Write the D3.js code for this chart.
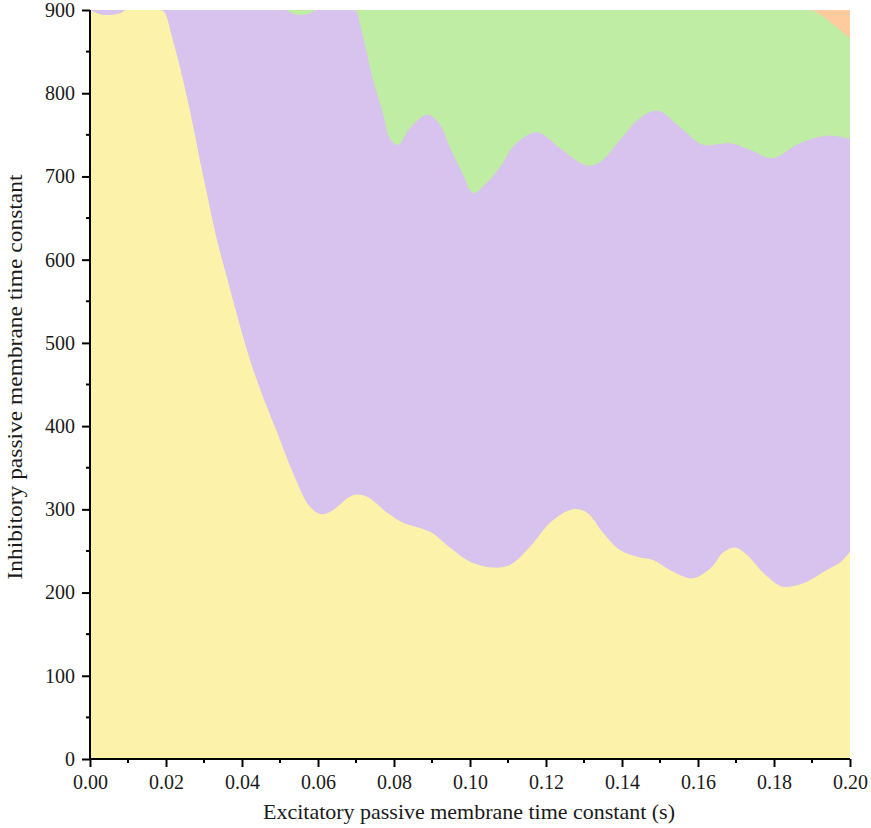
<!DOCTYPE html>
<html>
  <head>
    <meta charset="utf-8">
    <title>Membrane time constant regions</title>
    <script src="https://cdnjs.cloudflare.com/ajax/libs/d3/7.8.5/d3.min.js"></script>
    <style>
      body { margin: 0; background: #fff; }
      svg text { font-family: "Liberation Serif", "Times New Roman", serif; fill: #1a1a1a; }
    </style>
  </head>
  <body>
    <script>

      var outerWidth = 871;
      var outerHeight = 828;
      var margin = { left: 90, top: 10, right: 21, bottom: 69 };

      // tick values
      var xTicks = [0, 0.02, 0.04, 0.06, 0.08, 0.10, 0.12, 0.14, 0.16, 0.18, 0.20];
      var xMinorTicks = [0.01, 0.03, 0.05, 0.07, 0.09, 0.11, 0.13, 0.15, 0.17, 0.19];
      var yTicks = [0, 100, 200, 300, 400, 500, 600, 700, 800, 900];
      var yMinorTicks = [50, 150, 250, 350, 450, 550, 650, 750, 850];

      var regionColors = ["#fdcb9e", "#c0eda4", "#d8c2ee", "#fdf2aa"];

      // upper edge of each region [tauE, tauI]
      var orangeTop = [[0, 900], [0.20, 900]];

      var greenTop = [[0, 900], [0.19, 900], [0.1908, 898], [0.1927, 893],
        [0.1947, 886], [0.1974, 876], [0.20, 866]];

      var purpleTop = [[0, 900], [0.0513, 900], [0.0532, 896], [0.0553, 894],
        [0.0579, 896], [0.0595, 900], [0.0697, 900], [0.0711, 882], [0.0724, 858],
        [0.0745, 816], [0.0771, 776], [0.0789, 746], [0.0811, 738], [0.0842, 758],
        [0.0889, 774], [0.0921, 762], [0.0947, 735], [0.0982, 702], [0.1008, 680],
        [0.1039, 690], [0.1079, 711], [0.1118, 738], [0.1176, 753], [0.1237, 734],
        [0.1308, 713], [0.1342, 717], [0.1395, 744], [0.1447, 770], [0.1495, 779],
        [0.1553, 759], [0.1613, 738], [0.1684, 740], [0.1737, 732], [0.1795, 722],
        [0.1868, 740], [0.1939, 749], [0.20, 745]];

      var yellowTop = [[0, 900], [0.0026, 895], [0.0053, 894], [0.0079, 896],
        [0.0095, 900], [0.0184, 900], [0.0195, 898], [0.0218, 864], [0.0245, 816],
        [0.0268, 768], [0.0289, 720], [0.0311, 672], [0.0334, 624], [0.0363, 574],
        [0.0390, 528], [0.0418, 484], [0.0447, 445], [0.0492, 393], [0.0534, 344],
        [0.0579, 303], [0.0611, 294], [0.0639, 299], [0.0692, 317], [0.0729, 315],
        [0.0782, 296], [0.0824, 284], [0.0895, 273], [0.0947, 254], [0.1, 237],
        [0.106, 230], [0.1105, 233], [0.1158, 255], [0.1211, 284], [0.1271, 300],
        [0.1308, 296], [0.135, 272], [0.1395, 251], [0.144, 243], [0.1482, 239],
        [0.1526, 227], [0.1579, 217], [0.16, 219], [0.1637, 231], [0.1666, 248],
        [0.1697, 254], [0.1729, 245], [0.1771, 224], [0.1816, 208], [0.1842, 207],
        [0.1887, 213], [0.1939, 227], [0.1974, 236], [0.20, 249]];

      var innerWidth  = outerWidth  - margin.left - margin.right;
      var innerHeight = outerHeight - margin.top  - margin.bottom;

      var svg = d3.select("body").append("svg")
        .attr("width",  outerWidth)
        .attr("height", outerHeight);
      var g = svg.append("g")
        .attr("transform", "translate(" + margin.left + "," + margin.top + ")");

      var xScale = d3.scaleLinear().domain([0, 0.2]).range([0, innerWidth]);
      var yScale = d3.scaleLinear().domain([0, 900]).range([innerHeight, 0]);

      svg.append("defs").append("clipPath").attr("id", "plot-clip")
        .append("rect").attr("width", innerWidth).attr("height", innerHeight);

      var area = d3.area()
        .curve(d3.curveCatmullRom.alpha(0.5))
        .x(function (d){ return xScale(d[0]); })
        .y0(yScale(0))
        .y1(function (d){ return yScale(d[1]); });

      // paint from the top region down, each filled to the bottom
      var regions = [orangeTop, greenTop, purpleTop, yellowTop];
      g.append("g").attr("clip-path", "url(#plot-clip)")
        .selectAll("path").data(regions)
        .enter().append("path")
          .attr("d", area)
          .attr("fill", function (d, i){ return regionColors[i]; });

      // axes
      var xAxisG = g.append("g").attr("transform", "translate(0," + innerHeight + ")");
      xAxisG.call(d3.axisBottom(xScale).tickValues(xTicks).tickFormat(d3.format(".2f"))
        .tickSize(8).tickPadding(8));
      xAxisG.append("g").selectAll("line").data(xMinorTicks)
        .enter().append("line")
          .attr("x1", xScale).attr("x2", xScale)
          .attr("y1", 0).attr("y2", 4)
          .attr("stroke", "#000").attr("stroke-width", 2);

      var yAxisG = g.append("g");
      yAxisG.call(d3.axisLeft(yScale).tickValues(yTicks)
        .tickSize(8).tickPadding(7));
      yAxisG.append("g").selectAll("line").data(yMinorTicks)
        .enter().append("line")
          .attr("y1", yScale).attr("y2", yScale)
          .attr("x1", 0).attr("x2", -4)
          .attr("stroke", "#000").attr("stroke-width", 2);

      [xAxisG, yAxisG].forEach(function (a){
        a.attr("font-family", "Liberation Serif, serif").attr("font-size", 20);
        a.select(".domain").attr("stroke-width", 2).attr("d",
          a === xAxisG ? "M0,0H" + innerWidth : "M0,0V" + innerHeight);
        a.selectAll(".tick line").attr("stroke-width", 2);
      });

      // axis titles
      svg.append("text")
        .attr("x", 469)
        .attr("y", 819)
        .attr("text-anchor", "middle")
        .attr("font-size", 21)
        .attr("textLength", 412)
        .attr("lengthAdjust", "spacingAndGlyphs")
        .text("Excitatory passive membrane time constant (s)");

      svg.append("text")
        .attr("transform", "translate(22,377) rotate(-90)")
        .attr("text-anchor", "middle")
        .attr("font-size", 21)
        .attr("textLength", 405)
        .attr("lengthAdjust", "spacingAndGlyphs")
        .text("Inhibitory passive membrane time constant");

    </script>
  </body>
</html>
